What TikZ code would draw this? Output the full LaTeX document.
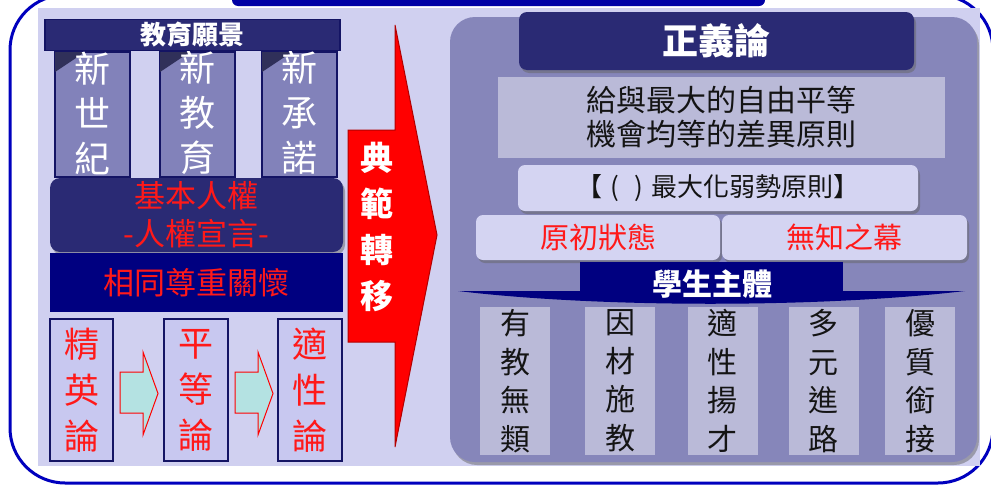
\documentclass[tikz,border=0pt]{standalone}
\usepackage{fontspec}
\setmainfont{Noto Sans CJK TC}
\usetikzlibrary{shadows}

\definecolor{frameblue}{RGB}{0,0,190}
\definecolor{topbar}{RGB}{0,0,165}
\definecolor{lavender}{RGB}{208,208,240}
\definecolor{pillarfill}{RGB}{130,130,186}
\definecolor{darknavy}{RGB}{42,42,116}
\definecolor{edgenavy}{RGB}{20,20,100}
\definecolor{deepnavy}{RGB}{0,0,128}
\definecolor{cornernavy}{RGB}{48,48,90}
\definecolor{textred}{RGB}{255,25,25}
\definecolor{palebox}{RGB}{200,200,240}
\definecolor{arrowcyan}{RGB}{180,226,226}
\definecolor{panelfill}{RGB}{134,134,186}
\definecolor{greybox}{RGB}{186,186,216}
\definecolor{lightbox}{RGB}{212,212,242}
\definecolor{inktext}{RGB}{20,20,20}

\begin{document}
\begin{tikzpicture}[x=1pt,y=-1pt]
  \tikzstyle{boxshadow}=[drop shadow={shadow xshift=2pt, shadow yshift=-3pt, fill=black!60, opacity=0.5}]
  \tikzstyle{pillar}=[draw=edgenavy, line width=1.5pt, fill=pillarfill, minimum width=75pt, minimum height=125pt, inner sep=0pt]
  \tikzstyle{pillartext}=[text=white, align=center, inner sep=0pt, font=\fontsize{36}{45}\selectfont]
  \tikzstyle{theory}=[draw=edgenavy, line width=1.5pt, fill=palebox, minimum height=142pt, inner sep=0pt, text=textred, align=center, font=\fontsize{35}{46}\selectfont]
  \tikzstyle{stepper}=[draw=red, line width=1pt, fill=arrowcyan]
  \tikzstyle{softbox}=[rounded corners=7pt, fill=lightbox, inner sep=0pt, minimum height=46pt, boxshadow]
  \tikzstyle{column}=[fill=greybox, minimum width=70pt, minimum height=148pt, inner sep=0pt, text=inktext, align=center, font=\fontsize{30}{38.5}\selectfont]
  \useasboundingbox (0,0) rectangle (991,485);
  \fill[white] (0,0) rectangle (991,485);
  \draw[frameblue, line width=3pt, rounded corners=55pt] (10,-5) rectangle (993,483);
  \fill[topbar, rounded corners=6pt] (232,-15) rectangle (765,6);
  \fill[lavender] (38,8) rectangle (980,466);

  % left: vision and rights
  \node[pillar] (p1) at (92.5,114.5) {};
  \node[pillar] (p2) at (197.5,114.5) {};
  \node[pillar] (p3) at (299.5,114.5) {};
  \fill[cornernavy] (55,52) -- (85,52) -- (55,72) -- cycle;
  \fill[cornernavy] (160,52) -- (190,52) -- (160,72) -- cycle;
  \fill[cornernavy] (262,52) -- (292,52) -- (262,72) -- cycle;
  \node[pillartext] (p1t) at (92.5,113) {新\\世\\紀};
  \node[pillartext] (p2t) at (197.5,113) {新\\教\\育};
  \node[pillartext] (p3t) at (299.5,113) {新\\承\\諾};
  \node[draw=edgenavy, line width=1.5pt, fill=darknavy, minimum width=295pt, minimum height=31pt, inner sep=0pt, text=white, font=\bfseries\fontsize{26}{28}\selectfont] (vision) at (192.5,35) {教育願景};
  \node[rounded corners=10pt, fill=darknavy, minimum width=293pt, minimum height=74pt, inner sep=0pt, text=textred, align=center, font=\fontsize{31}{38}\selectfont, boxshadow] (rights) at (196.5,215) {基本人權\\-人權宣言-};
  \node[fill=deepnavy, minimum width=293pt, minimum height=59pt, inner sep=0pt, text=textred, font=\fontsize{31}{33}\selectfont] (care) at (196.5,282.5) {相同尊重關懷};

  \node[theory, minimum width=63pt] (t1) at (81.5,390) {精\\英\\論};
  \node[theory, minimum width=64pt] (t2) at (196,390) {平\\等\\論};
  \node[theory, minimum width=64pt] (t3) at (310,390) {適\\性\\論};
  \foreach \dx in {0,115}
    \filldraw[stepper, xshift=\dx pt] (120,372) -- (143,372) -- (143,352) -- (158,393.5) -- (143,435) -- (143,413) -- (120,413) -- cycle;

  % paradigm shift
  \filldraw[fill=red, draw=red!70!black, line width=1pt] (348,130) -- (395,130) -- (395,25) -- (437,235) -- (395,447) -- (395,342) -- (348,342) -- cycle;
  \node[text=white, align=center, inner sep=0pt, font=\bfseries\fontsize{33}{46}\selectfont] (shift) at (377,227) {典\\範\\轉\\移};

  % right: justice
  \node[rounded corners=25pt, fill=panelfill, minimum width=527pt, minimum height=445pt, boxshadow] (justice) at (713.5,239.5) {};
  \node[rounded corners=8pt, fill=darknavy, minimum width=395pt, minimum height=58pt, inner sep=0pt, text=white, font=\bfseries\fontsize{36}{38}\selectfont, boxshadow] (title) at (716.5,41) {正義論};
  \node[fill=greybox, minimum width=447pt, minimum height=81pt, inner sep=0pt, text=inktext, align=center, font=\fontsize{30}{34}\selectfont] (principle) at (721.5,117) {給與最大的自由平等\\機會均等的差異原則};
  \node[softbox, minimum width=400pt, text=inktext, font=\fontsize{26}{28}\selectfont] (maximin) at (718,188) {【\hspace{0.3em}(\hspace{0.6em})\hspace{0.3em}最大化弱勢原則】};
  \node[softbox, minimum width=244pt, minimum height=45pt, text=textred, font=\fontsize{29}{31}\selectfont] (origin) at (598,237.5) {原初狀態};
  \node[softbox, minimum width=245pt, minimum height=45pt, text=textred, font=\fontsize{29}{31}\selectfont] (veil) at (844.5,237.5) {無知之幕};
  \fill[deepnavy] (458,291) .. controls (600,308) and (820,308) .. (965,291) -- cycle;
  \node[fill=deepnavy, minimum width=263pt, minimum height=31pt, inner sep=0pt] (subject) at (711.5,277.5) {};
  \node[text=white, inner sep=0pt, font=\bfseries\fontsize{30}{32}\selectfont] (subjectt) at (712,284) {學生主體};

  \node[column] (c1) at (515,381) {有\\教\\無\\類};
  \node[column] (c2) at (620,381) {因\\材\\施\\教};
  \node[column] (c3) at (722.5,381) {適\\性\\揚\\才};
  \node[column] (c4) at (823.5,381) {多\\元\\進\\路};
  \node[column] (c5) at (920,381) {優\\質\\銜\\接};
\end{tikzpicture}
\end{document}
